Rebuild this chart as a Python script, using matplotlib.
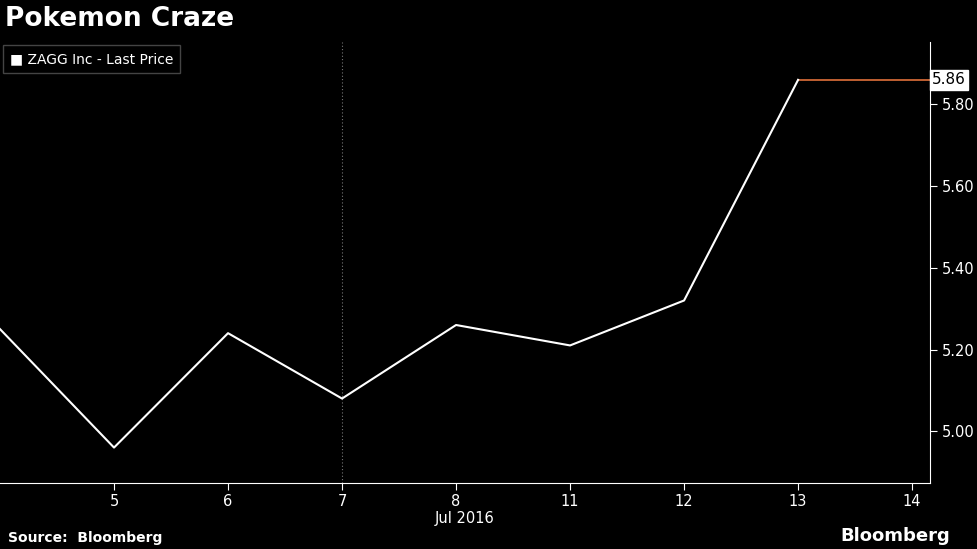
import matplotlib
matplotlib.use("Agg")
import matplotlib.pyplot as plt

days = ["4", "5", "6", "7", "8", "11", "12", "13", "14"]
prices = [5.25, 4.96, 5.24, 5.08, 5.26, 5.21, 5.32, 5.86]
last_price = 5.86
yticks = [5.00, 5.20, 5.40, 5.60, 5.80]

fig = plt.figure(figsize=(9.77, 5.49), dpi=100, facecolor="black")
ax = fig.add_axes([0.0, 0.120, 0.952, 0.803], facecolor="black")
x = list(range(len(prices)))
ax.plot(x, prices, color="white", lw=1.5, zorder=3)
ax.plot([x[-1], 8.2], [last_price, last_price], color="#e0703a", lw=1.2, zorder=2)
ax.axvline(3, color="#777777", lw=0.8, ls=(0, (1, 2)))
ax.set_xlim(0, 930 / 114)
ax.set_ylim(4.873, 5.952)
ax.yaxis.tick_right()
ax.set_yticks(yticks)
ax.set_yticklabels([f"{v:.2f}" for v in yticks])
ax.set_xticks(range(1, len(days)))
ax.set_xticklabels(days[1:])
ax.tick_params(colors="white", labelsize=10.5, direction="out", length=5)
ax.tick_params(axis="x", pad=3)
for s in ["top", "left"]:
    ax.spines[s].set_visible(False)
ax.spines["right"].set_color("white")
ax.spines["bottom"].set_color("white")
ax.text(1.002, (last_price - 4.873) / (5.952 - 4.873), f"{last_price:.2f}",
        transform=ax.transAxes, color="black", fontsize=11, va="center", ha="left",
        bbox=dict(boxstyle="square,pad=0.15", fc="white", ec="white"), clip_on=False)

fig.text(465 / 977, 1 - 518 / 549, "Jul 2016", color="white", fontsize=10.5, ha="center", va="center")
fig.text(0.005, 1 - 19 / 549, "Pokemon Craze", color="white", fontsize=19, fontweight="bold", va="center")
fig.text(0.01, 1 - 59 / 549, "■ ZAGG Inc - Last Price", color="white", fontsize=10, va="center",
         bbox=dict(boxstyle="square,pad=0.5", fc="black", ec="#444444"))
fig.text(0.008, 1 - 538 / 549, "Source:  Bloomberg", color="white", fontsize=10, fontweight="bold", va="center")
fig.text(0.972, 1 - 536 / 549, "Bloomberg", color="white", fontsize=13, fontweight="bold", va="center", ha="right")
fig.savefig("out.png", facecolor="black")
